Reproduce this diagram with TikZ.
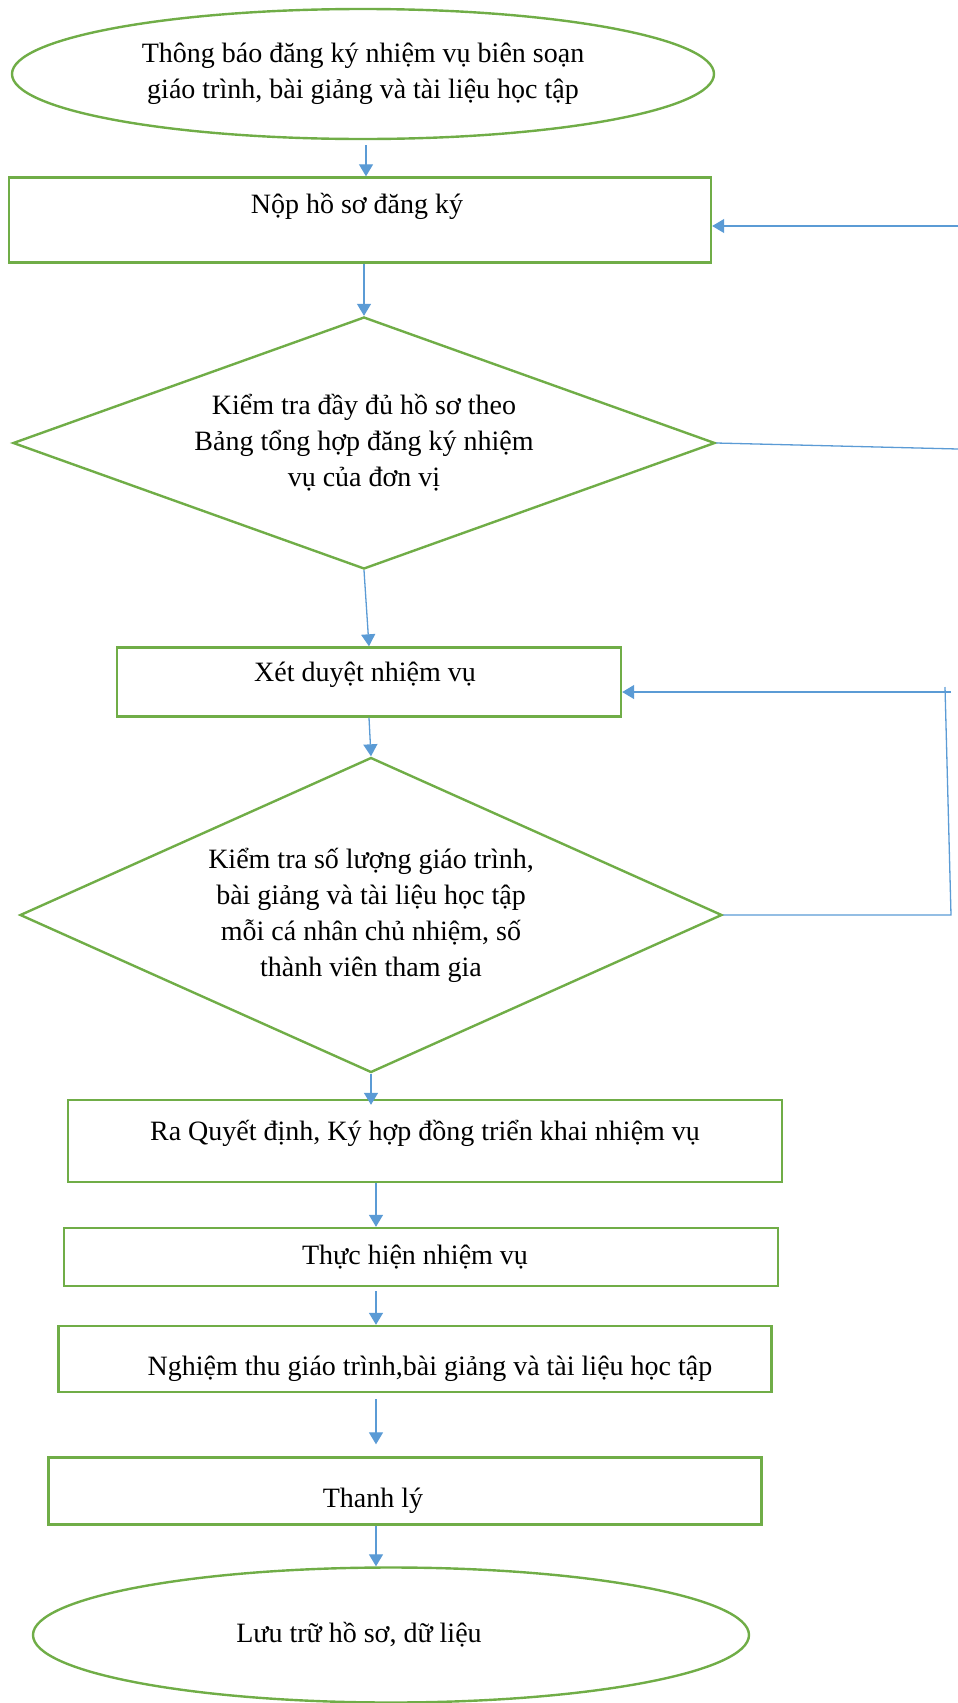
\documentclass[tikz,border=0pt]{standalone}
\usepackage{fontspec}
\setmainfont{Liberation Serif}
\usetikzlibrary{shapes.geometric, arrows.meta}

\definecolor{viengreen}{RGB}{112,173,71}
\definecolor{muiblue}{RGB}{91,155,213}

\tikzset{
  khung/.style={draw=viengreen, line width=1.2pt, rectangle, inner sep=0pt},
  elip/.style={draw=viengreen, line width=1.2pt, ellipse, inner sep=0pt, align=center},
  thoi/.style={draw=viengreen, line width=1.2pt, diamond, aspect=2.3, inner sep=0pt, align=center},
  muiten/.style={draw=muiblue, line width=0.65pt, -{Triangle[length=6pt,width=7pt]}},
  noi/.style={draw=muiblue, line width=0.65pt},
}

\begin{document}
\begin{tikzpicture}[x=0.5pt, y=-0.5pt, font=\fontsize{14}{18}\selectfont]
    \useasboundingbox (0,0) rectangle (958,1703);

    % Start
    \node[elip, minimum width=351pt, minimum height=65pt] (tb) at (363,74)
        {Thông báo đăng ký nhiệm vụ biên soạn\\giáo trình, bài giảng và tài liệu học tập};

    % Register
    \node[khung, minimum width=351pt, minimum height=42.5pt,
          label={[xshift=-1.5pt, yshift=7pt]center:Nộp hồ sơ đăng ký}] (nop) at (360,220) {};

    % First check
    \node[thoi, minimum width=351pt, minimum height=126pt] (kt1) at (364,443)
        {Kiểm tra đầy đủ hồ sơ theo\\Bảng tổng hợp đăng ký nhiệm\\vụ của đơn vị};

    \node[khung, minimum width=252pt, minimum height=34.5pt,
          label={[xshift=-2pt, yshift=3.5pt]center:Xét duyệt nhiệm vụ}] (xet) at (369,682) {};

    % Second check
    \node[thoi, minimum width=351pt, minimum height=157.5pt] (kt2) at (371,915)
        {Kiểm tra số lượng giáo trình,\\bài giảng và tài liệu học tập\\mỗi cá nhân chủ nhiệm, số\\thành viên tham gia};

    % Remaining steps
    \node[khung, minimum width=357pt, minimum height=41pt,
          label={[yshift=4pt]center:{Ra Quyết định, Ký hợp đồng triển khai nhiệm vụ}}] (ra) at (425,1141) {};
    \node[khung, minimum width=357pt, minimum height=29pt,
          label={[xshift=-3pt]center:Thực hiện nhiệm vụ}] (th) at (421,1257) {};
    \node[khung, minimum width=356.5pt, minimum height=33pt,
          label={[xshift=7.5pt, yshift=-5pt]center:{Nghiệm thu giáo trình,bài giảng và tài liệu học tập}}] (nt) at (415,1359) {};
    \node[khung, minimum width=356.5pt, minimum height=33.5pt,
          label={[xshift=-16pt, yshift=-5pt]center:Thanh lý}] (tl) at (405,1491) {};

    % End
    \node[elip, minimum width=358pt, minimum height=67.5pt] (luu) at (391,1635)
        {\hspace*{-32pt}Lưu trữ hồ sơ, dữ liệu};

    % connectors
    \coordinate (x1) at (366,0);
    \coordinate (x3) at (376,0);
    \coordinate (vao1) at (958,226);
    \coordinate (ra1) at (958,449);
    \coordinate (g1) at (951,915);
    \coordinate (g2) at (945,687);
    \coordinate (g3) at (951,692);

    \draw[muiten, shorten <=2.5pt] (tb.south -| x1) -- (nop.north -| x1);
    \draw[muiten] (nop.south -| kt1.north) -- (kt1.north);
    \draw[muiten] (vao1) -- (vao1 -| nop.east);
    \draw[noi] (kt1.east) -- (ra1);
    \draw[muiten] (kt1.south) -- (xet.north);
    \draw[muiten] (xet.south) -- (kt2.north);
    \draw[noi] (kt2.east) -- (g1) -- (g2);
    \draw[muiten] (g3) -- (g3 -| xet.east);
    \draw[muiten, shorten >=-3pt] (kt2.south) -- (ra.north -| kt2.south);
    \draw[muiten] (ra.south -| x3) -- (th.north -| x3);
    \draw[muiten, shorten <=2pt] (th.south -| x3) -- (nt.north -| x3);
    \draw[muiten, shorten <=3pt, shorten >=6pt] (nt.south -| x3) -- (tl.north -| x3);
    \draw[muiten] (tl.south -| x3) -- (luu.north -| x3);
\end{tikzpicture}
\end{document}
